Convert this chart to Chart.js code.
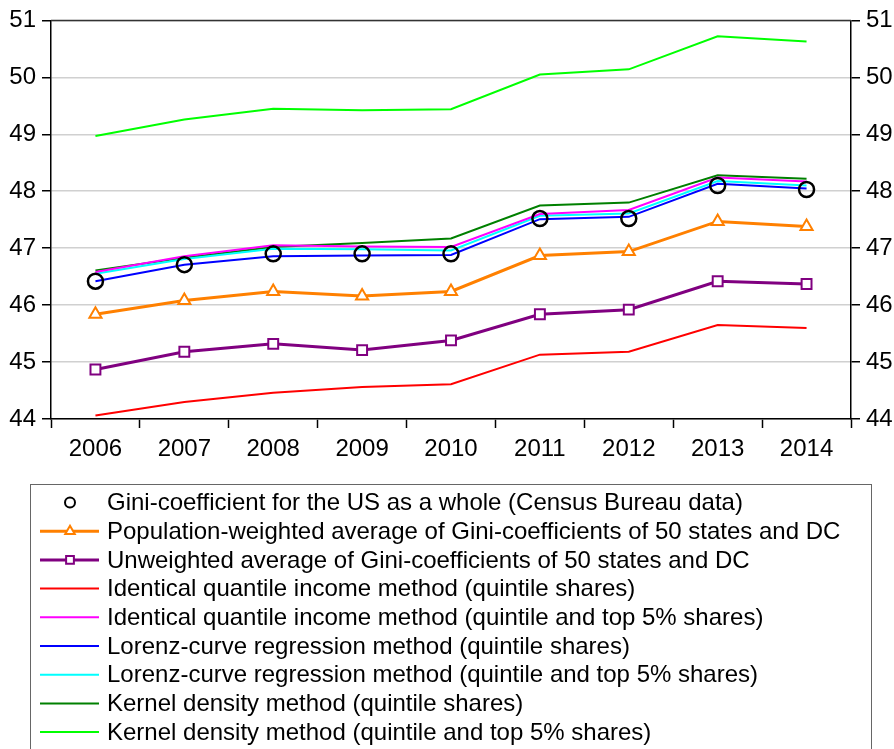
<!DOCTYPE html>
<html>
<head>
<meta charset="utf-8">
<script src="https://cdn.jsdelivr.net/npm/chart.js@4.4.1/dist/chart.umd.min.js"></script>
<style>
  html, body { margin: 0; padding: 0; background: #fff; }
  #wrap { width: 894px; height: 749px; position: relative; }
</style>
</head>
<body>
<div id="wrap"><canvas id="gini-chart" width="894" height="749"></canvas></div>
<script>
const years = ['2006', '2007', '2008', '2009', '2010', '2011', '2012', '2013', '2014'];
const yTicks = [44, 45, 46, 47, 48, 49, 50, 51];

const censusUS       = [46.42, 46.71, 46.90, 46.90, 46.90, 47.52, 47.52, 48.10, 48.03];
const popWeighted    = [45.84, 46.08, 46.24, 46.16, 46.24, 46.87, 46.94, 47.47, 47.38];
const unweighted     = [44.87, 45.18, 45.32, 45.21, 45.38, 45.84, 45.92, 46.42, 46.37];
const iqiQuintile    = [44.06, 44.30, 44.46, 44.56, 44.61, 45.13, 45.18, 45.65, 45.60];
const iqiTop5        = [46.58, 46.86, 47.05, 47.03, 47.02, 47.60, 47.67, 48.24, 48.17];
const lorenzQuintile = [46.42, 46.71, 46.86, 46.87, 46.88, 47.51, 47.55, 48.13, 48.05];
const lorenzTop5     = [46.55, 46.81, 46.99, 46.98, 46.96, 47.57, 47.61, 48.18, 48.10];
const kernelQuintile = [46.61, 46.83, 47.02, 47.09, 47.17, 47.75, 47.80, 48.28, 48.22];
const kernelTop5     = [48.97, 49.26, 49.45, 49.42, 49.44, 50.05, 50.14, 50.72, 50.63];

const FONT = '"Liberation Sans", Arial, sans-serif';

function lineSet(label, data, color, width) {
    return {
        label: label,
        data: data,
        borderColor: color,
        backgroundColor: color,
        borderWidth: width,
        pointRadius: 0,
        pointHoverRadius: 0,
        tension: 0,
        yAxisID: 'y'
    };
}

// boxed legend below the plot, one entry per row
const boxLegend = {
    id: 'boxLegend',
    afterDraw(chart) {
        const ctx = chart.ctx;
        ctx.save();
        ctx.strokeStyle = '#666666';
        ctx.lineWidth = 1;
        ctx.strokeRect(30.5, 484.5, 841, 300);

        ctx.font = '24px ' + FONT;
        ctx.textBaseline = 'middle';
        ctx.textAlign = 'left';
        chart.data.datasets.forEach((ds, i) => {
            const y = 502.5 + i * 28.7;
            if (ds.showLine !== false) {
                ctx.strokeStyle = ds.borderColor;
                ctx.lineWidth = ds.borderWidth;
                ctx.beginPath();
                ctx.moveTo(40, y);
                ctx.lineTo(99, y);
                ctx.stroke();
            }
            if (ds.pointRadius > 0) {
                ctx.strokeStyle = ds.pointBorderColor || ds.borderColor;
                ctx.fillStyle = ds.pointBackgroundColor || '#fff';
                ctx.lineWidth = 2;
                Chart.helpers.drawPoint(ctx, {
                    pointStyle: ds.pointStyle,
                    radius: ds.legendRadius,
                    borderWidth: 2,
                    rotation: 0
                }, 70, y);
            }
            ctx.fillStyle = '#000';
            ctx.fillText(ds.label, 107, y + 1);
        });
        ctx.restore();
    }
};

// dark top edge of the plot frame
const topFrame = {
    id: 'topFrame',
    afterDatasetsDraw(chart) {
        const a = chart.chartArea;
        const ctx = chart.ctx;
        ctx.save();
        ctx.strokeStyle = '#333333';
        ctx.lineWidth = 1.5;
        ctx.beginPath();
        ctx.moveTo(a.left, a.top);
        ctx.lineTo(a.right, a.top);
        ctx.stroke();
        ctx.restore();
    }
};

const yScale = (position) => ({
    type: 'linear',
    position: position,
    min: 44,
    max: 51,
    afterBuildTicks: (scale) => { scale.ticks = yTicks.map(v => ({ value: v })); },
    afterFit: (scale) => { scale.width = position === 'left' ? 51 : 43; },
    border: { display: true, color: '#000', width: 1.5 },
    grid: {
        drawOnChartArea: position === 'left',
        color: '#d0d0d0',
        lineWidth: 1.5,
        tickColor: '#000',
        tickLength: 9,
        tickWidth: 1.5
    },
    ticks: {
        color: '#000',
        padding: 6,
        font: { family: FONT, size: 24 }
    }
});

const ctx = document.getElementById('gini-chart').getContext('2d');
const giniChart = new Chart(ctx, {
    type: 'line',
    data: {
        labels: years,
        datasets: [
            {
                label: 'Gini-coefficient for the US as a whole (Census Bureau data)',
                data: censusUS,
                showLine: false,
                borderColor: '#000',
                backgroundColor: 'rgba(0,0,0,0)',
                pointStyle: 'circle',
                pointRadius: 7.5,
                pointBorderWidth: 2.5,
                pointBorderColor: '#000',
                pointBackgroundColor: 'rgba(0,0,0,0)',
                pointHoverRadius: 7.5,
                legendRadius: 5,
                yAxisID: 'y'
            },
            {
                label: 'Population-weighted average of Gini-coefficients of 50 states and DC',
                data: popWeighted,
                borderColor: '#ff8000',
                backgroundColor: '#ff8000',
                borderWidth: 3,
                pointStyle: 'triangle',
                pointRadius: 7,
                pointBorderWidth: 2,
                pointBorderColor: '#ff8000',
                pointBackgroundColor: '#fff',
                pointHoverRadius: 7,
                legendRadius: 5.5,
                tension: 0,
                yAxisID: 'y'
            },
            {
                label: 'Unweighted average of Gini-coefficients of 50 states and DC',
                data: unweighted,
                borderColor: '#800080',
                backgroundColor: '#800080',
                borderWidth: 3,
                pointStyle: 'rect',
                pointRadius: 7,
                pointBorderWidth: 2,
                pointBorderColor: '#800080',
                pointBackgroundColor: '#fff',
                pointHoverRadius: 7,
                legendRadius: 5.5,
                tension: 0,
                yAxisID: 'y'
            },
            lineSet('Identical quantile income method (quintile shares)', iqiQuintile, '#ff0000', 2),
            lineSet('Identical quantile income method (quintile and top 5% shares)', iqiTop5, '#ff00ff', 2),
            lineSet('Lorenz-curve regression method (quintile shares)', lorenzQuintile, '#0000ff', 2),
            lineSet('Lorenz-curve regression method (quintile and top 5% shares)', lorenzTop5, '#00ffff', 2),
            lineSet('Kernel density method (quintile shares)', kernelQuintile, '#008000', 2),
            lineSet('Kernel density method (quintile and top 5% shares)', kernelTop5, '#00ff00', 2)
        ]
    },
    options: {
        responsive: false,
        animation: false,
        layout: { padding: { top: 19, right: 0, bottom: 290, left: 0 } },
        plugins: {
            legend: { display: false },
            tooltip: { enabled: false }
        },
        scales: {
            x: {
                type: 'category',
                offset: true,
                afterFit: (scale) => { scale.height = 40; },
                border: { display: true, color: '#000', width: 1.5 },
                grid: {
                    offset: true,
                    drawOnChartArea: false,
                    tickColor: '#000',
                    tickLength: 9,
                    tickWidth: 1.5
                },
                ticks: {
                    color: '#000',
                    padding: 7,
                    maxRotation: 0,
                    font: { family: FONT, size: 24 }
                }
            },
            y: yScale('left'),
            y2: yScale('right')
        }
    },
    plugins: [boxLegend, topFrame]
});
</script>
</body>
</html>
